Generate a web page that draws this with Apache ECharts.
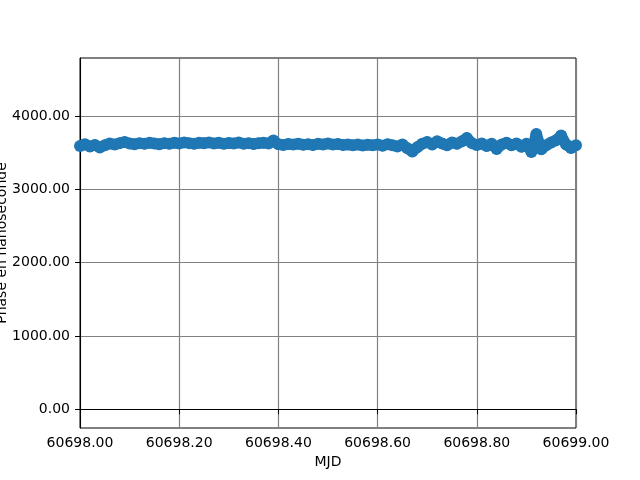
<!DOCTYPE html>
<html>
<head>
<meta charset="utf-8">
<script src="https://cdn.jsdelivr.net/npm/echarts@6/dist/echarts.min.js"></script>
<style>
  html, body { margin: 0; padding: 0; background: #fff; }
  #chart { width: 640px; height: 480px; }
</style>
</head>
<body>
<div id="chart"></div>
<script>
// time stamps (MJD)
const mjd = [
  60698.00, 60698.01, 60698.02, 60698.03, 60698.04, 60698.05, 60698.06, 60698.07, 60698.08, 60698.09,
  60698.10, 60698.11, 60698.12, 60698.13, 60698.14, 60698.15, 60698.16, 60698.17, 60698.18, 60698.19,
  60698.20, 60698.21, 60698.22, 60698.23, 60698.24, 60698.25, 60698.26, 60698.27, 60698.28, 60698.29,
  60698.30, 60698.31, 60698.32, 60698.33, 60698.34, 60698.35, 60698.36, 60698.37, 60698.38, 60698.39,
  60698.40, 60698.41, 60698.42, 60698.43, 60698.44, 60698.45, 60698.46, 60698.47, 60698.48, 60698.49,
  60698.50, 60698.51, 60698.52, 60698.53, 60698.54, 60698.55, 60698.56, 60698.57, 60698.58, 60698.59,
  60698.60, 60698.61, 60698.62, 60698.63, 60698.64, 60698.65, 60698.66, 60698.67, 60698.68, 60698.69,
  60698.70, 60698.71, 60698.72, 60698.73, 60698.74, 60698.75, 60698.76, 60698.77, 60698.78, 60698.79,
  60698.80, 60698.81, 60698.82, 60698.83, 60698.84, 60698.85, 60698.86, 60698.87, 60698.88, 60698.89,
  60698.90, 60698.91, 60698.92, 60698.93, 60698.94, 60698.95, 60698.96, 60698.97, 60698.98, 60698.99,
  60699.00
]

// phase in ns
const phase = [
  3590, 3615, 3585, 3605, 3570, 3600, 3625, 3610, 3630, 3645,
  3625, 3615, 3630, 3620, 3635, 3625, 3615, 3630, 3620, 3635,
  3625, 3640, 3630, 3620, 3635, 3628, 3640, 3625, 3635, 3620,
  3632, 3625, 3638, 3622, 3630, 3618, 3628, 3635, 3625, 3665,
  3615, 3605, 3618, 3610, 3622, 3608, 3615, 3605, 3620, 3612,
  3625, 3610, 3618, 3605, 3612, 3600, 3610, 3598, 3608, 3600,
  3612, 3595, 3615, 3600, 3585, 3610, 3560, 3515, 3575, 3620,
  3645, 3610, 3655, 3625, 3600, 3640, 3620, 3655, 3700, 3630,
  3605, 3625, 3590, 3620, 3550, 3610, 3635, 3600, 3625, 3580,
  3620, 3510, 3755, 3545, 3600, 3640, 3670, 3735, 3610, 3565,
  3600
]

const yTicks = [0, 1000, 2000, 3000, 4000]

const chart = echarts.init(document.getElementById('chart'))

const labelStyle = {
    color: '#000',
    fontFamily: 'DejaVu Sans',
    fontSize: 14
}

chart.setOption({
    animation: false,
    grid: {
        left: 80,
        right: 64,
        top: 58,
        bottom: 52,
        containLabel: false,
        outerBoundsMode: 'none',
        show: true,
        borderColor: '#000',
        borderWidth: 1,
        backgroundColor: 'transparent'
    },
    xAxis: {
        type: 'value',
        min: 60698,
        max: 60699,
        interval: 0.2,
        name: 'MJD',
        nameLocation: 'middle',
        nameGap: 27,
        nameTextStyle: labelStyle,
        axisLine: { show: true, lineStyle: { color: '#000', width: 1 } },
        axisTick: { show: true, length: 5, lineStyle: { color: '#000' } },
        axisLabel: Object.assign({ margin: 8, formatter: v => v.toFixed(2) }, labelStyle),
        splitLine: { show: true, lineStyle: { color: '#808080', width: 1.2 } }
    },
    yAxis: {
        type: 'value',
        min: -255,
        max: 4791,
        name: 'Phase en nanoseconde',
        nameLocation: 'middle',
        nameGap: 71,
        nameMoveOverlap: false,
        nameTextStyle: labelStyle,
        axisLine: { show: true, lineStyle: { color: '#000', width: 1 } },
        axisTick: { show: true, length: 5, customValues: yTicks, lineStyle: { color: '#000' } },
        axisLabel: Object.assign({ margin: 10, customValues: yTicks, formatter: v => v.toFixed(2) }, labelStyle),
        splitLine: { show: true, lineStyle: { color: '#808080', width: 1.2 } }
    },
    series: [{
        type: 'line',
        data: mjd.map((t, i) => [t, phase[i]]),
        symbol: 'circle',
        symbolSize: 12,
        showSymbol: true,
        clip: true,
        itemStyle: { color: '#1f77b4' },
        lineStyle: { color: '#1f77b4', width: 11, join: 'round' }
    }]
})
</script>
</body>
</html>
